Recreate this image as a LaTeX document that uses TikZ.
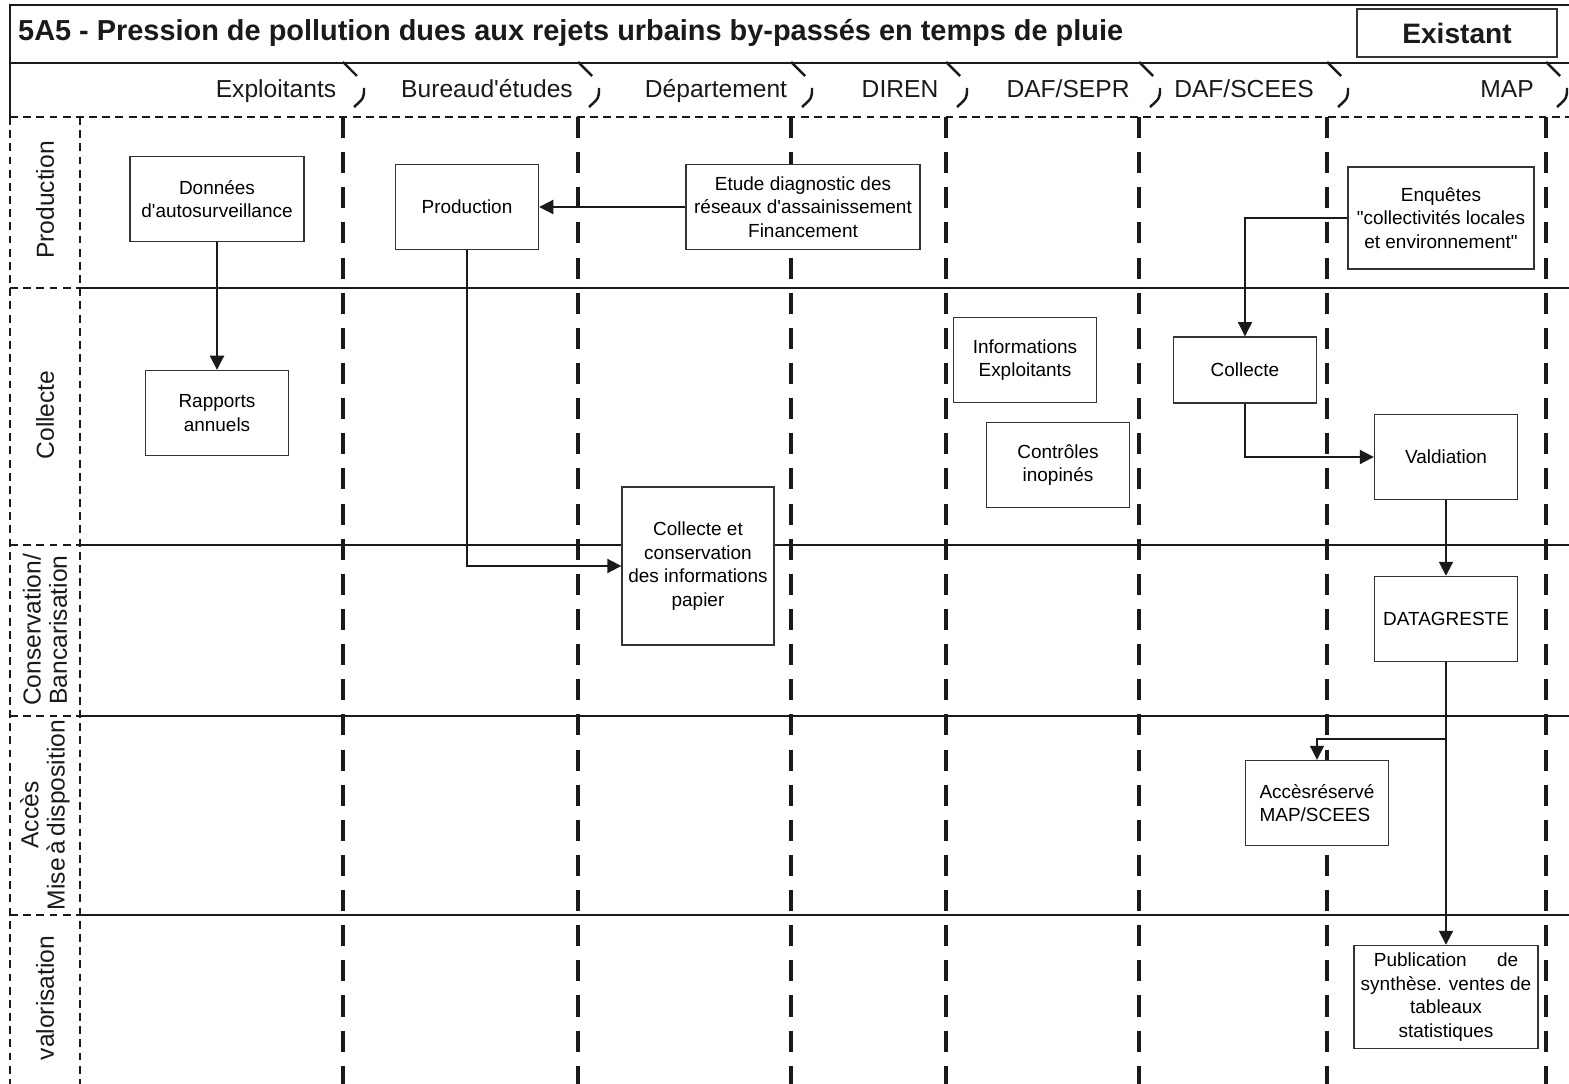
\documentclass[tikz,border=0pt]{standalone}
\usepackage{fontspec}
\setmainfont{Liberation Sans}
\usetikzlibrary{arrows.meta}
\definecolor{ink}{HTML}{1A1A1A}
\definecolor{boxline}{HTML}{333333}
\newcommand{\apos}{\textquotesingle}

\begin{document}
\begin{tikzpicture}[x=0.02cm,y=-0.02cm,
  box/.style={draw=boxline,fill=white,line width=0.8pt,minimum width=2.86cm,
    minimum height=1.7cm,inner sep=2pt,align=center,
    font=\fontsize{10.8}{13.5}\selectfont},
  head/.style={anchor=base,text=ink,font=\fontsize{14}{16}\selectfont},
  lane/.style={rotate=90,align=center,text=ink,font=\fontsize{14}{15}\selectfont},
  laneline/.style={draw=ink,line width=1.1pt},
  thindash/.style={draw=ink,line width=0.8pt,dash pattern=on 4.5pt off 3pt},
  col/.style={draw=ink,line width=2.3pt,dash pattern=on 12pt off 8pt},
  arrow/.style={draw=ink,line width=1.1pt,-{Triangle[length=8pt,width=8pt]}},
  thinarrow/.style={arrow,line width=0.6pt}
]
\useasboundingbox (0,0) rectangle (1569,1084);
% frame and header
\draw[laneline] (1569,5) -- (10,5) -- (10,117);
\draw[laneline] (10,63) -- (1569,63);
\draw[thindash] (10,117) -- (1569,117);
\draw[thindash] (10,117) -- (10,1084);
\draw[thindash] (80,117) -- (80,1084);
\node[anchor=west,text=ink,font=\bfseries\fontsize{16.45}{18}\selectfont] (title) at (12,33)
  {5A5 - Pression de pollution dues aux rejets urbains by-passés en temps de pluie};
\node[draw=boxline,line width=0.8pt,minimum width=4cm,minimum height=0.96cm,
  text=ink,font=\bfseries\fontsize{16}{18}\selectfont] (status) at (1457,33) {Existant};
\foreach \x in {343,578,791,946,1139,1327,1546} {
  \draw[ink,line width=1.4pt] (\x,62) -- ++(14,14);
  \draw[ink,line width=1.4pt] (\x+21,88) .. controls (\x+21,98) .. (\x+11,107);
  \draw[col] (\x,117) -- (\x,1084);
}
\node[head] (hexp) at (276,98) {Exploitants};
\node[head] (hbe) at (487,98) {Bureaud\apos études};
\node[head] (hdep) at (716,98) {Département};
\node[head] (hdiren) at (900,98) {DIREN};
\node[head] (hsepr) at (1068,98) {DAF/SEPR};
\node[head] (hscees) at (1244,98) {DAF/SCEES};
\node[head] (hmap) at (1507,98) {MAP};
% lanes
\foreach \y in {288,545,716,915} {
  \draw[thindash] (10,\y) -- (80,\y);
  \draw[laneline] (80,\y) -- (1569,\y);
}
\node[lane] (lprod) at (45,200) {Production};
\node[lane] (lcoll) at (45,415) {Collecte};
\node[lane] (lcons) at (45,630) {Conservation/\\Bancarisation};
\node[lane] (lacces) at (45,815) {Accès\\Mise\,à\,disposition};
\node[lane] (lval) at (45,998) {valorisation};
% boxes
\node[box,minimum width=3.48cm] (donnees) at (217,199) {Données\\d\apos autosurveillance};
\node[box] (rapports) at (217,413) {Rapports\\annuels};
\node[box] (prod) at (467,207) {Production};
\node[box,minimum width=4.68cm] (etude) at (803,207)
  {Etude diagnostic des\\réseaux d\apos assainissement\\Financement};
\node[box,minimum width=3.04cm,minimum height=3.16cm] (colcons) at (698,566)
  {Collecte et\\conservation\\des informations\\papier};
\node[box] (infos) at (1025,360) {Informations\\Exploitants};
\node[box] (controles) at (1058,465) {Contrôles\\inopinés};
\node[box,minimum width=3.72cm,minimum height=2.04cm] (enquetes) at (1441,218)
  {Enquêtes\\\textquotedbl collectivités locales\\et environnement\textquotedbl};
\node[box,minimum height=1.32cm] (collecte) at (1245,370) {Collecte};
\node[box] (validation) at (1446,457) {Valdiation};
\node[box] (datagreste) at (1446,619) {DATAGRESTE};
\node[box,align=left] (acces) at (1317,803) {Accèsréservé\\MAP/SCEES};
\node[box,minimum width=3.68cm,minimum height=2.06cm] (publication) at (1446,997)
  {Publication\hspace{1.6em}de\\synthèse. ventes de\\tableaux\\statistiques};
% flows
\draw[arrow] (donnees) -- (rapports);
\draw[arrow] (etude) -- (prod);
\draw[arrow] (prod.south) |- (colcons.west);
\draw[thinarrow] (enquetes.west) -| (collecte.north);
\draw[arrow] (collecte.south) |- (validation.west);
\draw[arrow] (validation) -- (datagreste);
\draw[arrow] (datagreste) -- (publication);
\coordinate (split) at (1446,739);
\draw[thinarrow] (split) -| (acces.north);
\end{tikzpicture}
\end{document}
